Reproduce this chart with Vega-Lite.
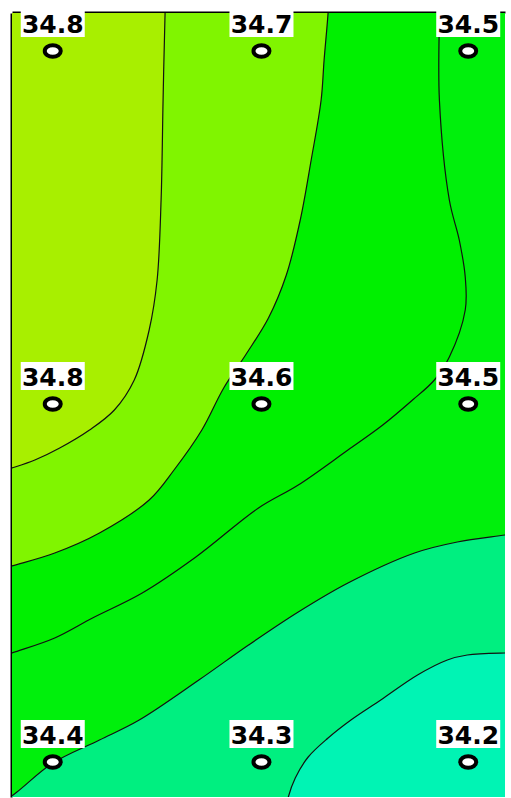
{
  "$schema": "https://vega.github.io/schema/vega-lite/v6.json",
  "width": 493,
  "height": 784,
  "autosize": {"type": "none"},
  "padding": {"left": 12, "top": 13, "right": 6, "bottom": 1},
  "background": "white",
  "config": {"view": {"stroke": null}},
  "datasets": {
    "poly": [
      {"p": "p1", "i": 1, "x": -40, "y": -40, "c": false},
      {"p": "p1", "i": 2, "x": 540, "y": -40, "c": false},
      {"p": "p1", "i": 3, "x": 540, "y": 830, "c": false},
      {"p": "p1", "i": 4, "x": -40, "y": 830, "c": false},

      {"p": "p2", "i": 1, "x": 155, "y": -20, "c": true},
      {"p": "p2", "i": 2, "x": 154, "y": 0, "c": true},
      {"p": "p2", "i": 3, "x": 152, "y": 87, "c": true},
      {"p": "p2", "i": 4, "x": 150, "y": 187, "c": true},
      {"p": "p2", "i": 5, "x": 146, "y": 267, "c": true},
      {"p": "p2", "i": 6, "x": 138, "y": 317, "c": true},
      {"p": "p2", "i": 7, "x": 123, "y": 367, "c": true},
      {"p": "p2", "i": 8, "x": 103, "y": 397, "c": true},
      {"p": "p2", "i": 9, "x": 78, "y": 417, "c": true},
      {"p": "p2", "i": 10, "x": 48, "y": 435, "c": true},
      {"p": "p2", "i": 11, "x": 23, "y": 447, "c": true},
      {"p": "p2", "i": 12, "x": 0, "y": 455, "c": true},
      {"p": "p2", "i": 13, "x": -20, "y": 461, "c": true},
      {"p": "p2", "i": 14, "x": -40, "y": 830, "c": false},
      {"p": "p2", "i": 15, "x": 540, "y": 830, "c": false},
      {"p": "p2", "i": 16, "x": 540, "y": -40, "c": false},

      {"p": "p3", "i": 1, "x": 319, "y": -20, "c": true},
      {"p": "p3", "i": 2, "x": 318, "y": 0, "c": true},
      {"p": "p3", "i": 3, "x": 314, "y": 47, "c": true},
      {"p": "p3", "i": 4, "x": 311, "y": 87, "c": true},
      {"p": "p3", "i": 5, "x": 301, "y": 147, "c": true},
      {"p": "p3", "i": 6, "x": 290, "y": 207, "c": true},
      {"p": "p3", "i": 7, "x": 276, "y": 262, "c": true},
      {"p": "p3", "i": 8, "x": 258, "y": 305, "c": true},
      {"p": "p3", "i": 9, "x": 235, "y": 342, "c": true},
      {"p": "p3", "i": 10, "x": 213, "y": 375, "c": true},
      {"p": "p3", "i": 11, "x": 191, "y": 417, "c": true},
      {"p": "p3", "i": 12, "x": 163, "y": 457, "c": true},
      {"p": "p3", "i": 13, "x": 138, "y": 487, "c": true},
      {"p": "p3", "i": 14, "x": 88, "y": 520, "c": true},
      {"p": "p3", "i": 15, "x": 43, "y": 540, "c": true},
      {"p": "p3", "i": 16, "x": 0, "y": 553, "c": true},
      {"p": "p3", "i": 17, "x": -20, "y": 559, "c": true},
      {"p": "p3", "i": 18, "x": -40, "y": 830, "c": false},
      {"p": "p3", "i": 19, "x": 540, "y": 830, "c": false},
      {"p": "p3", "i": 20, "x": 540, "y": -40, "c": false},

      {"p": "p4", "i": 1, "x": 430, "y": -20, "c": true},
      {"p": "p4", "i": 2, "x": 430, "y": 0, "c": true},
      {"p": "p4", "i": 3, "x": 430, "y": 87, "c": true},
      {"p": "p4", "i": 4, "x": 440, "y": 187, "c": true},
      {"p": "p4", "i": 5, "x": 450, "y": 227, "c": true},
      {"p": "p4", "i": 6, "x": 456, "y": 264, "c": true},
      {"p": "p4", "i": 7, "x": 456, "y": 297, "c": true},
      {"p": "p4", "i": 8, "x": 440, "y": 344, "c": true},
      {"p": "p4", "i": 9, "x": 425, "y": 367, "c": true},
      {"p": "p4", "i": 10, "x": 403, "y": 387, "c": true},
      {"p": "p4", "i": 11, "x": 373, "y": 412, "c": true},
      {"p": "p4", "i": 12, "x": 338, "y": 437, "c": true},
      {"p": "p4", "i": 13, "x": 288, "y": 472, "c": true},
      {"p": "p4", "i": 14, "x": 248, "y": 495, "c": true},
      {"p": "p4", "i": 15, "x": 185, "y": 544, "c": true},
      {"p": "p4", "i": 16, "x": 131, "y": 580, "c": true},
      {"p": "p4", "i": 17, "x": 81, "y": 605, "c": true},
      {"p": "p4", "i": 18, "x": 43, "y": 625, "c": true},
      {"p": "p4", "i": 19, "x": 0, "y": 640, "c": true},
      {"p": "p4", "i": 20, "x": -20, "y": 647, "c": true},
      {"p": "p4", "i": 21, "x": -40, "y": 830, "c": false},
      {"p": "p4", "i": 22, "x": 540, "y": 830, "c": false},
      {"p": "p4", "i": 23, "x": 540, "y": -40, "c": false},

      {"p": "p5", "i": 1, "x": 516, "y": 519, "c": true},
      {"p": "p5", "i": 2, "x": 496, "y": 522, "c": true},
      {"p": "p5", "i": 3, "x": 448, "y": 529, "c": true},
      {"p": "p5", "i": 4, "x": 405, "y": 540, "c": true},
      {"p": "p5", "i": 5, "x": 338, "y": 570, "c": true},
      {"p": "p5", "i": 6, "x": 288, "y": 599, "c": true},
      {"p": "p5", "i": 7, "x": 238, "y": 632, "c": true},
      {"p": "p5", "i": 8, "x": 188, "y": 667, "c": true},
      {"p": "p5", "i": 9, "x": 128, "y": 707, "c": true},
      {"p": "p5", "i": 10, "x": 88, "y": 727, "c": true},
      {"p": "p5", "i": 11, "x": 41, "y": 750, "c": true},
      {"p": "p5", "i": 12, "x": 5, "y": 779, "c": true},
      {"p": "p5", "i": 13, "x": -15, "y": 794, "c": true},
      {"p": "p5", "i": 14, "x": -40, "y": 830, "c": false},
      {"p": "p5", "i": 15, "x": 540, "y": 830, "c": false},

      {"p": "p6", "i": 1, "x": 516, "y": 640, "c": true},
      {"p": "p6", "i": 2, "x": 496, "y": 640, "c": true},
      {"p": "p6", "i": 3, "x": 458, "y": 642, "c": true},
      {"p": "p6", "i": 4, "x": 438, "y": 647, "c": true},
      {"p": "p6", "i": 5, "x": 408, "y": 662, "c": true},
      {"p": "p6", "i": 6, "x": 371, "y": 687, "c": true},
      {"p": "p6", "i": 7, "x": 341, "y": 707, "c": true},
      {"p": "p6", "i": 8, "x": 318, "y": 725, "c": true},
      {"p": "p6", "i": 9, "x": 298, "y": 744, "c": true},
      {"p": "p6", "i": 10, "x": 285, "y": 765, "c": true},
      {"p": "p6", "i": 11, "x": 278, "y": 784, "c": true},
      {"p": "p6", "i": 12, "x": 275, "y": 800, "c": true},
      {"p": "p6", "i": 13, "x": 540, "y": 830, "c": false}
    ],
    "st": [
      {"x": 41, "y": 38, "v": "34.8"},
      {"x": 251, "y": 38, "v": "34.7"},
      {"x": 459, "y": 38, "v": "34.5"},
      {"x": 41, "y": 391, "v": "34.8"},
      {"x": 251, "y": 391, "v": "34.6"},
      {"x": 459, "y": 391, "v": "34.5"},
      {"x": 41, "y": 749, "v": "34.4"},
      {"x": 251, "y": 749, "v": "34.3"},
      {"x": 459, "y": 749, "v": "34.2"}
    ]
  },
  "encoding": {
    "x": {
      "field": "x", "type": "quantitative",
      "scale": {"domain": [0, 496], "nice": false, "zero": false},
      "axis": {"orient": "top", "labels": false, "ticks": false, "grid": false, "title": null, "domain": true, "domainColor": "#000000", "domainWidth": 2, "offset": 1}
    },
    "y": {
      "field": "y", "type": "quantitative",
      "scale": {"domain": [0, 784], "nice": false, "zero": false, "reverse": true},
      "axis": {"orient": "left", "labels": false, "ticks": false, "grid": false, "title": null, "domain": true, "domainColor": "#000000", "domainWidth": 2, "offset": 1}
    }
  },
  "layer": [
    {
      "data": {"name": "poly"},
      "mark": {"type": "line", "interpolate": "catmull-rom", "clip": true, "strokeWidth": 0, "strokeOpacity": 0, "fillOpacity": 1},
      "encoding": {
        "order": {"field": "i", "type": "quantitative"},
        "detail": {"field": "p", "type": "nominal"},
        "fill": {
          "field": "p", "type": "nominal",
          "scale": {"domain": ["p1", "p2", "p3", "p4", "p5", "p6"], "range": ["#a8ef00", "#80f500", "#00f000", "#00f00c", "#00ef80", "#00f4b4"]},
          "legend": null
        }
      }
    },
    {
      "data": {"name": "poly"},
      "transform": [{"filter": "datum.c"}],
      "mark": {"type": "line", "interpolate": "catmull-rom", "clip": true, "stroke": "#111111", "strokeWidth": 1.2},
      "encoding": {
        "order": {"field": "i", "type": "quantitative"},
        "detail": {"field": "p", "type": "nominal"}
      }
    },
    {
      "data": {"name": "st"},
      "mark": {"type": "rect", "fill": "#ffffff", "width": 64, "height": 28, "yOffset": -28}
    },
    {
      "data": {"name": "st"},
      "mark": {"type": "text", "font": "DejaVu Sans", "fontWeight": "bold", "fontSize": 25, "align": "center", "baseline": "alphabetic", "dy": -18, "color": "#000000"},
      "encoding": {"text": {"field": "v", "type": "nominal"}}
    },
    {
      "data": {"name": "st"},
      "mark": {"type": "point", "shape": "M-1,0 A1,0.72 0 1,0 1,0 A1,0.72 0 1,0 -1,0 Z", "size": 256, "filled": true, "fill": "#ffffff", "stroke": "#000000", "strokeWidth": 4, "opacity": 1}
    }
  ]
}
